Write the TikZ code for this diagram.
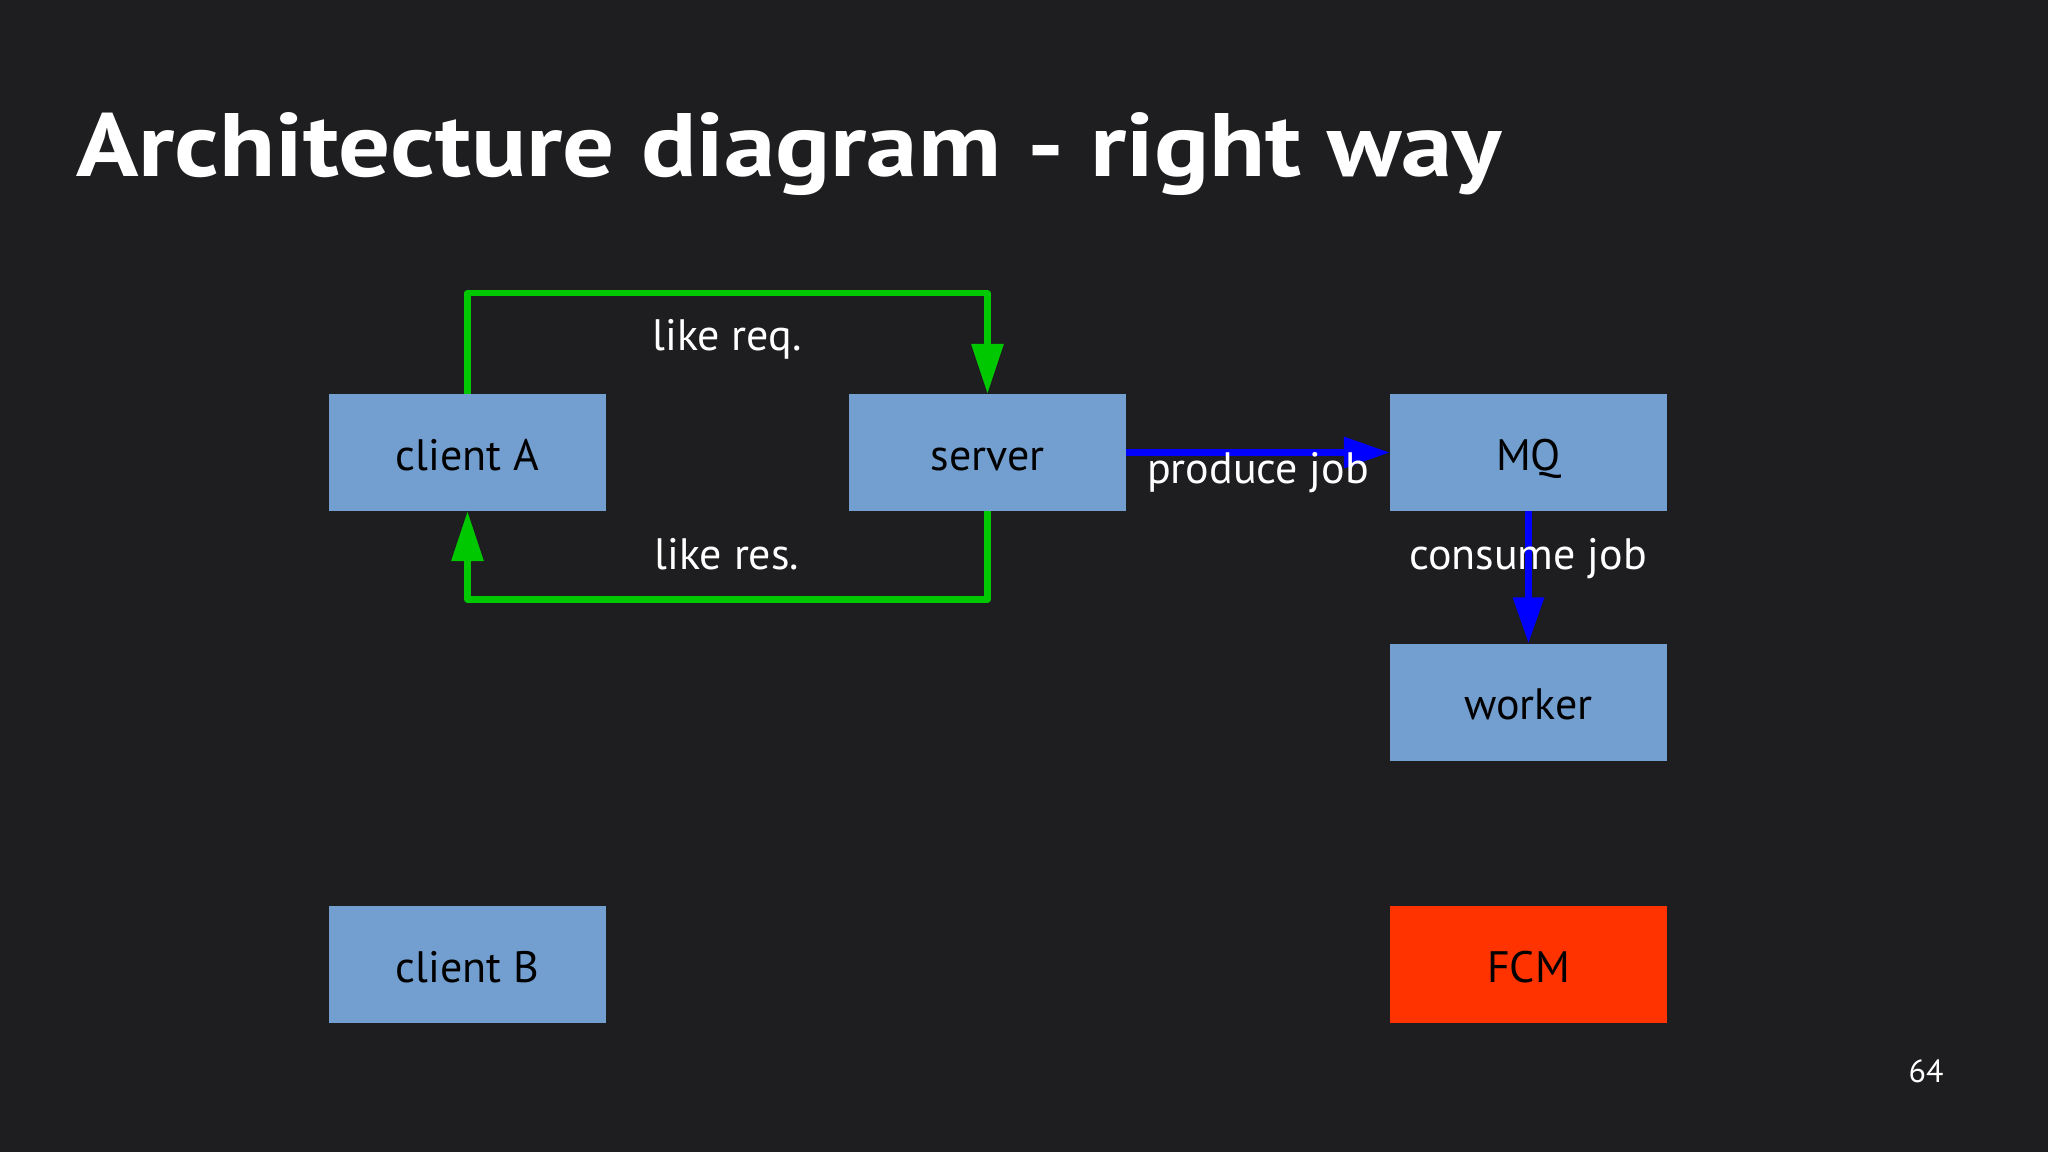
\documentclass[tikz,border=0pt]{standalone}
\usepackage{fontspec}
\setmainfont{PT Sans}
\usetikzlibrary{arrows.meta,positioning}
\definecolor{bg}{HTML}{1E1E20}
\definecolor{boxblue}{HTML}{739FD0}
\definecolor{fcmred}{HTML}{FF3300}
\definecolor{lgreen}{HTML}{00C800}
\definecolor{lblue}{HTML}{0000FF}
\tikzset{
  box/.style={minimum width=277pt, minimum height=117pt, inner sep=0pt, fill=boxblue, text=black, font=\fontsize{44}{50}\selectfont, text height=35pt, text depth=0pt},
  lbl/.style={text=white, font=\fontsize{44}{50}\selectfont, inner sep=0pt, text height=35pt, text depth=0pt},
  greenflow/.style={draw=lgreen, line width=6.5pt, line join=round, -{Triangle[length=50pt,width=31pt]}},
  blueflow/.style={draw=lblue, line width=6.5pt, -{Triangle[length=46pt,width=30pt]}},
}
\begin{document}
\begin{tikzpicture}[x=1pt,y=-1pt]
\fill[bg] (0,0) rectangle (2048,1152);
\useasboundingbox (0,0) rectangle (2048,1152);
\node[anchor=base west, text=white, inner sep=0pt, font=\fontsize{90}{100}\selectfont\bfseries] (title) at (76,176) {\scalebox{1.145}[1]{Architecture diagram - right way}};
\node[box] (clientA) at (467.5,452.5) {client A};
\node[box] (server) at (987.5,452.5) {server};
\node[box] (mq) at (1528.5,452.5) {MQ};
\node[box] (worker) at (1528.5,702) {worker};
\node[box] (clientB) at (467.5,964.5) {client B};
\node[box, fill=fcmred] (fcm) at (1528.5,964.5) {FCM};
\coordinate (topline) at (0,293);
\coordinate (botline) at (0,599.5);
\draw[greenflow] (clientA.north) -- (clientA.north |- topline) -| (server.north);
\draw[greenflow] (server.south) -- (server.south |- botline) -| (clientA.south);
\draw[blueflow] (server.east) -- (mq.west);
\draw[blueflow] (mq.south) -- (worker.north);
\node[lbl] (likereq) at (727,332.5) {like req.};
\node[lbl] (likeres) at (727,552) {like res.};
\node[lbl] (produce) at (1258,466) {produce job};
\node[lbl] (consume) at (1528,552) {consume job};
\node[text=white, inner sep=0pt, font=\fontsize{32}{36}\selectfont] (page) at (1926,1071) {64};
\end{tikzpicture}
\end{document}
